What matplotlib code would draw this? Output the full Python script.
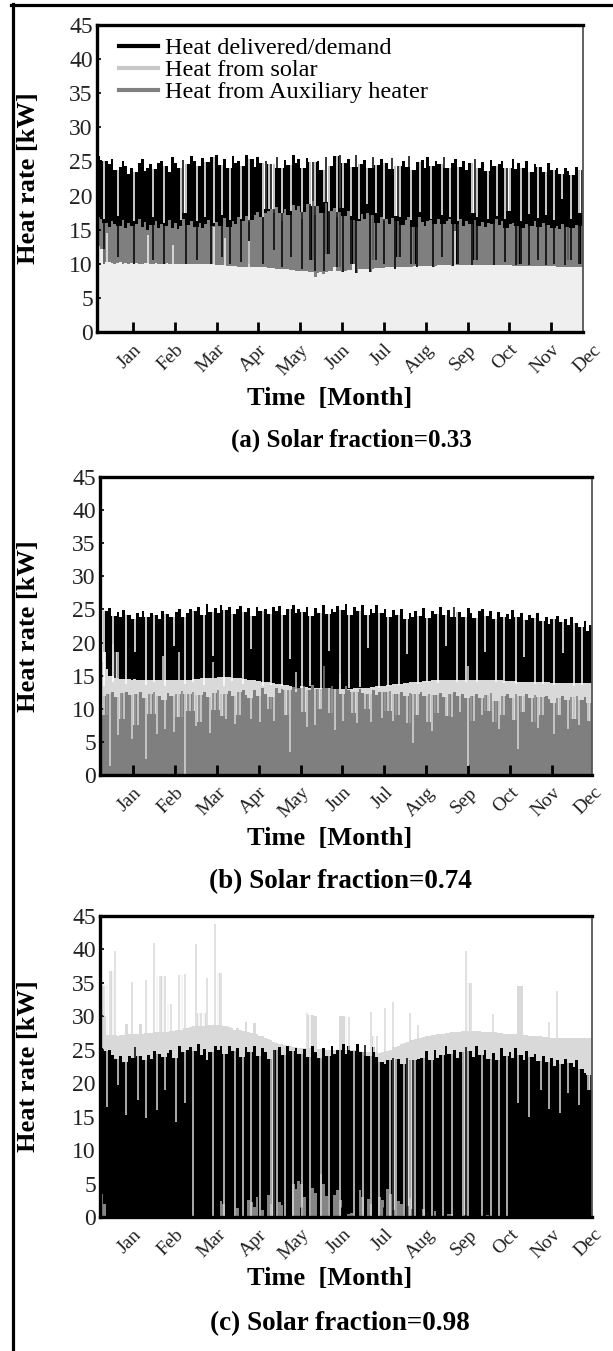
import numpy as np
import matplotlib
matplotlib.use("Agg")
import matplotlib.pyplot as plt
from matplotlib.lines import Line2D
import matplotlib.transforms as mtransforms

W, H = 613, 1351
plt.rcParams['font.family'] = ['Liberation Serif', 'DejaVu Serif']

# ---------------- data ----------------
month_labels = ["Jan", "Feb", "Mar", "Apr", "May", "Jun",
                "Jul", "Aug", "Sep", "Oct", "Nov", "Dec"]
month_days = [30.4, 60.8, 91.3, 121.7, 152.1, 182.5,
              212.9, 243.3, 273.8, 304.2, 334.6, 365.0]
y_ticks = [0, 5, 10, 15, 20, 25, 30, 35, 40, 45]
series_names = ["Heat delivered/demand", "Heat from solar",
                "Heat from Auxiliary heater"]
titles = ["(a) Solar fraction=0.33", "(b) Solar fraction=0.74",
          "(c) Solar fraction=0.98"]

# panel (a) : values every ~2 days [kW]
a_demand = [25.8, 25.2, 16.5, 25.0, 24.6, 25.3, 23.8, 17.0, 24.2, 25.0,
            24.4, 23.2, 24.0, 16.2, 23.5, 24.8, 25.4, 23.6, 24.1, 24.6,
            16.8, 23.9, 24.7, 25.1, 16.0, 24.3, 23.4, 25.6, 24.8, 24.0,
            16.4, 25.2, 17.5, 24.6, 25.8, 25.0, 16.2, 24.3, 25.5, 16.8,
            24.9, 25.7, 16.0, 25.9, 24.5, 17.2, 25.4, 24.0, 16.4, 25.8,
            24.7, 25.1, 16.6, 24.4, 25.9, 16.1, 25.3, 24.2, 25.6, 24.8,
            16.9, 25.0, 18.0, 24.6, 17.5, 25.7, 24.1, 16.3, 25.2, 24.5,
            17.8, 25.9, 24.8, 25.3, 16.6, 24.0, 25.5, 18.4, 24.9, 17.2,
            25.1, 23.8, 19.0, 25.6, 17.6, 24.3, 25.8, 16.8, 26.0, 18.2,
            24.7, 25.4, 17.0, 24.2, 25.9, 16.5, 24.6, 25.2, 18.8, 24.0,
            25.7, 17.4, 24.5, 25.3, 16.2, 24.8, 23.9, 25.5, 17.0, 24.4,
            16.8, 25.0, 24.2, 25.8, 16.4, 23.7, 24.9, 17.6, 25.2, 24.1,
            25.6, 16.6, 24.3, 25.0, 24.6, 17.2, 25.7, 24.0, 16.9, 24.8,
            25.4, 16.3, 24.2, 25.1, 23.8, 24.7, 17.4, 25.3, 16.8, 24.0,
            24.9, 23.6, 16.5, 25.2, 24.4, 17.0, 24.6, 25.0, 16.6, 24.1,
            17.8, 25.4, 23.9, 24.7, 16.2, 24.0, 25.1, 17.3, 23.5, 24.6,
            16.7, 24.2, 23.4, 17.1, 24.8, 23.7, 16.4, 24.1, 23.2, 19.5,
            24.0, 23.6, 16.6, 23.0, 24.2, 17.5, 23.8]
a_aux = [16.8, 16.5, 10.0, 16.0, 15.4, 16.2, 15.8, 11.0, 15.6, 16.4,
         15.2, 16.0, 15.5, 10.0, 15.8, 16.6, 15.4, 16.1, 15.0, 15.7,
         10.5, 16.3, 15.2, 15.9, 10.0, 15.6, 16.4, 15.3, 16.0, 15.1,
         15.6, 16.5, 10.0, 15.7, 16.2, 15.4, 10.5, 16.0, 15.2, 15.9,
         16.4, 10.0, 15.5, 16.1, 15.6, 11.0, 16.7, 15.4, 10.0, 16.3,
         15.8, 16.9, 10.2, 16.2, 17.0, 10.0, 16.4, 17.2, 17.6, 16.8,
         10.0, 17.4, 17.8, 18.0, 12.0, 18.3, 17.5, 9.5, 18.1, 17.2,
         11.0, 18.6, 17.9, 18.4, 9.2, 17.6, 18.8, 10.5, 19.2, 9.0,
         18.5, 17.4, 9.0, 18.9, 11.5, 17.8, 18.2, 9.5, 17.6, 8.8,
         17.0, 17.7, 10.0, 16.4, 8.6, 16.2, 17.3, 16.6, 17.4, 8.8,
         17.1, 10.5, 16.0, 16.8, 10.0, 16.5, 15.9, 16.7, 9.2, 16.2,
         11.0, 15.7, 16.4, 16.9, 10.0, 15.4, 9.5, 16.8, 16.1, 15.6,
         16.3, 16.4, 9.6, 15.9, 16.5, 11.0, 15.8, 16.2, 16.5, 9.7,
         15.9, 10.0, 16.6, 15.5, 16.3, 15.8, 9.8, 16.4, 10.5, 15.6,
         16.1, 15.4, 16.0, 15.9, 9.8, 16.6, 15.7, 16.2, 10.2, 15.3,
         15.8, 16.0, 9.8, 15.6, 10.0, 15.2, 15.9, 9.8, 15.5, 16.2,
         10.5, 15.4, 16.0, 9.8, 15.7, 15.3, 10.0, 15.6, 15.1, 15.8,
         9.8, 15.4, 10.5, 15.2, 15.7, 10.0, 15.6]
a_solar = [12.6, 12.2, 10.0, 14.5, 10.3, 10.1, 10.0, 10.1, 10.2, 10.0,
           10.1, 10.0, 10.1, 10.0, 10.1, 10.0, 10.0, 10.1, 14.2, 10.0,
           10.0, 10.1, 10.0, 10.0, 10.0, 10.1, 10.0, 12.8, 10.0, 10.0,
           9.9, 10.0, 9.9, 10.0, 9.9, 10.0, 9.9, 9.9, 10.0, 9.9,
           9.9, 9.9, 15.4, 9.8, 9.8, 9.8, 13.8, 9.7, 9.7, 9.7,
           9.7, 9.6, 9.6, 9.6, 9.6, 13.4, 9.6, 9.5, 9.5, 9.5,
           9.5, 9.5, 9.4, 9.4, 9.4, 9.3, 9.3, 9.3, 9.2, 9.2,
           9.1, 9.1, 9.0, 9.0, 9.0, 8.9, 8.9, 8.8, 8.8, 8.0,
           8.7, 8.8, 8.5, 8.8, 8.9, 8.9, 9.6, 8.9, 9.0, 8.8,
           9.0, 9.1, 9.1, 9.9, 8.6, 9.2, 9.2, 9.3, 9.3, 8.8,
           9.3, 9.4, 9.4, 9.4, 9.4, 9.5, 9.5, 9.5, 9.2, 9.5,
           9.6, 9.6, 9.6, 9.6, 9.6, 9.7, 9.5, 9.7, 9.7, 9.7,
           9.7, 9.7, 9.6, 9.7, 9.8, 9.8, 9.8, 9.8, 9.8, 9.7,
           14.8, 9.8, 9.8, 9.8, 9.8, 9.8, 9.8, 9.8, 9.8, 9.8,
           9.8, 9.8, 9.8, 9.8, 9.8, 9.8, 9.8, 9.8, 9.8, 9.8,
           9.8, 9.7, 9.7, 9.7, 9.7, 9.7, 9.7, 9.7, 9.7, 9.7,
           9.7, 9.7, 9.7, 9.7, 9.7, 9.7, 9.7, 9.6, 9.6, 9.6,
           9.6, 9.6, 9.6, 9.6, 9.6, 9.6, 9.6]

# panel (b)
b_demand = [25.5, 13.5, 24.8, 25.2, 14.0, 24.0, 24.6, 23.8, 24.9, 13.8,
            24.2, 23.6, 18.5, 24.4, 23.9, 24.7, 13.6, 23.8, 24.5, 14.0,
            24.1, 23.5, 24.8, 13.5, 24.3, 23.9, 19.5, 24.6, 25.1, 23.8,
            13.8, 24.4, 25.0, 14.0, 24.7, 25.3, 24.1, 13.6, 25.8, 24.6,
            18.0, 25.2, 24.5, 25.6, 13.5, 24.9, 25.4, 14.2, 24.3, 25.0,
            25.5, 13.8, 24.6, 25.2, 19.0, 24.0, 25.4, 24.7, 13.4, 25.1,
            24.3, 13.6, 25.3, 24.8, 25.5, 13.5, 24.2, 25.0, 17.5, 25.6,
            24.4, 25.1, 13.2, 24.6, 25.4, 13.4, 24.0, 25.2, 24.5, 13.0,
            25.7, 24.3, 18.8, 25.0, 24.6, 25.5, 13.0, 24.9, 25.8, 13.1,
            24.2, 25.3, 24.7, 13.3, 25.6, 24.1, 19.2, 25.0, 24.4, 25.7,
            13.2, 24.5, 25.1, 13.4, 23.8, 24.9, 24.2, 13.6, 25.0, 23.6,
            18.2, 24.4, 23.9, 24.7, 13.8, 24.0, 25.2, 14.0, 23.7, 24.8,
            24.3, 13.9, 25.3, 24.1, 19.5, 24.9, 23.8, 25.4, 14.0, 24.6,
            23.9, 14.1, 25.2, 24.4, 23.7, 14.0, 24.8, 25.1, 18.6, 24.0,
            24.7, 23.5, 14.0, 24.6, 23.8, 13.9, 24.3, 23.6, 24.9, 13.8,
            23.9, 24.5, 17.8, 23.4, 24.2, 23.7, 13.7, 24.4, 23.2, 13.8,
            23.9, 22.8, 23.6, 13.6, 24.0, 23.1, 18.4, 23.5, 22.7, 23.8,
            13.5, 23.0, 22.4, 13.6, 23.3, 21.8, 22.6]
b_solar = [17.0, 18.5, 16.0, 15.0, 19.8, 14.6, 18.5, 14.5, 14.5, 14.5,
           14.5, 14.4, 14.5, 14.4, 14.4, 14.4, 14.4, 14.3, 14.3, 14.3,
           14.3, 14.3, 18.0, 14.3, 14.3, 14.3, 14.3, 14.3, 18.6, 14.3,
           14.4, 14.4, 14.4, 14.5, 14.5, 14.5, 14.6, 14.6, 14.6, 14.7,
           17.0, 14.7, 14.8, 14.8, 14.8, 14.8, 14.8, 14.7, 14.7, 14.6,
           14.6, 14.5, 14.5, 14.4, 14.4, 14.3, 14.2, 14.2, 14.1, 14.0,
           14.0, 13.9, 13.9, 13.8, 13.8, 13.7, 13.6, 13.6, 13.5, 12.8,
           15.5, 13.0, 13.4, 13.3, 13.3, 13.2, 13.2, 13.1, 13.1, 13.1,
           13.0, 13.0, 13.0, 13.0, 13.0, 13.0, 15.2, 13.0, 13.0, 13.0,
           13.0, 13.1, 13.1, 13.1, 13.2, 13.2, 13.2, 13.3, 13.3, 13.4,
           13.4, 13.5, 13.5, 13.6, 13.6, 13.7, 13.7, 13.8, 13.8, 13.9,
           13.9, 14.0, 14.0, 14.1, 14.1, 14.1, 14.2, 14.2, 14.2, 14.3,
           14.3, 14.3, 14.3, 14.4, 14.4, 14.4, 14.4, 14.4, 14.4, 14.4,
           14.4, 14.4, 16.4, 14.4, 14.4, 14.4, 14.4, 14.4, 14.4, 14.3,
           14.3, 14.3, 14.3, 14.3, 14.3, 14.2, 14.2, 14.2, 14.2, 14.2,
           14.1, 14.1, 14.1, 14.1, 14.1, 14.0, 14.0, 14.0, 14.0, 14.0,
           14.0, 14.0, 13.9, 13.9, 13.9, 13.9, 13.9, 13.9, 13.9, 13.9,
           13.9, 13.9, 13.9, 13.9, 13.9, 13.9, 13.9]
b_aux = [12.0, 9.0, 12.3, 1.4, 12.5, 11.8, 6.0, 12.4, 8.5, 12.6,
         12.1, 5.4, 12.3, 7.5, 12.5, 11.6, 2.4, 12.2, 9.2, 12.6,
         6.2, 12.0, 11.3, 7.0, 12.4, 11.9, 6.5, 12.3, 8.8, 12.7,
         0.0, 12.2, 9.6, 12.5, 7.4, 12.1, 8.0, 12.6, 11.8, 6.3,
         12.4, 9.8, 12.8, 8.9, 12.2, 8.4, 12.7, 12.0, 7.7, 12.5,
         9.0, 12.9, 12.1, 11.6, 8.5, 12.8, 12.0, 8.0, 13.1, 12.3,
         9.9, 11.8, 8.2, 13.2, 12.4, 13.0, 9.0, 12.8, 3.4, 13.3,
         12.5, 13.1, 9.5, 13.4, 7.2, 12.9, 13.6, 7.6, 13.0, 10.0,
         16.5, 13.2, 9.3, 13.5, 6.8, 13.0, 12.3, 8.2, 13.4, 12.8,
         9.4, 12.5, 7.8, 13.0, 12.4, 10.0, 12.2, 8.0, 12.8, 12.1,
         12.6, 8.6, 12.5, 9.6, 12.7, 8.2, 12.3, 9.0, 12.6, 12.0,
         7.8, 12.4, 4.9, 12.2, 9.1, 12.5, 11.9, 8.0, 12.3, 6.7,
         12.1, 9.3, 12.4, 11.8, 8.9, 12.2, 8.7, 12.5, 11.9, 9.5,
         12.3, 11.7, 1.4, 12.0, 8.2, 12.3, 11.7, 9.0, 12.1, 9.6,
         12.4, 8.0, 11.2, 7.0, 12.0, 9.0, 12.3, 11.7, 8.3, 12.2,
         3.9, 11.9, 9.5, 12.2, 11.6, 8.0, 12.1, 7.1, 11.8, 9.1,
         12.0, 11.5, 10.9, 6.2, 11.7, 9.0, 12.0, 11.4, 7.0, 11.8,
         8.4, 11.9, 7.5, 11.3, 11.8, 8.1, 10.8]

# panel (c)
c_solar = [30.0, 34.5, 27.2, 36.8, 27.2, 39.8, 27.0, 27.2, 27.2, 28.8,
           27.3, 35.2, 27.3, 27.4, 28.8, 27.4, 35.5, 27.5, 27.5, 41.0,
           27.6, 36.0, 27.6, 36.0, 27.7, 31.8, 27.8, 27.9, 36.2, 28.0,
           36.3, 28.2, 28.4, 28.5, 40.8, 28.6, 30.5, 28.6, 35.8, 28.7,
           28.7, 43.8, 28.7, 36.5, 28.6, 28.5, 28.4, 28.3, 28.0, 28.2,
           27.9, 27.8, 29.1, 27.6, 27.5, 29.0, 27.3, 27.1, 27.0, 26.8,
           26.6, 26.4, 26.2, 26.0, 25.9, 25.8, 25.7, 25.6, 25.5, 25.4,
           25.4, 25.3, 25.3, 25.2, 30.5, 25.2, 30.2, 30.0, 25.1, 25.1,
           25.0, 25.0, 25.0, 25.0, 25.0, 25.0, 30.0, 30.0, 25.0, 29.9,
           24.9, 24.9, 24.8, 24.8, 24.7, 24.7, 24.6, 30.6, 24.6, 27.0,
           24.5, 24.6, 31.3, 24.8, 25.0, 32.2, 25.4, 25.6, 25.8, 26.0,
           26.2, 30.5, 26.4, 26.6, 28.7, 26.8, 26.9, 27.0, 27.1, 27.2,
           27.2, 27.3, 27.4, 27.4, 27.5, 27.5, 27.6, 27.6, 27.7, 27.7,
           27.8, 39.8, 27.8, 35.0, 27.8, 27.8, 27.8, 27.7, 27.7, 27.7,
           27.6, 30.3, 27.6, 27.5, 27.5, 27.4, 27.4, 27.4, 27.3, 27.3,
           34.6, 34.6, 27.2, 27.2, 27.1, 27.1, 27.0, 27.0, 27.0, 26.9,
           26.9, 29.2, 26.8, 26.8, 33.8, 26.8, 26.7, 26.7, 26.7, 26.7,
           26.7, 26.7, 26.7, 26.7, 26.7, 26.7, 26.7]
c_demand = [25.2, 24.8, 16.5, 25.0, 24.2, 23.6, 19.8, 24.0, 23.2, 15.2,
            24.1, 23.8, 25.4, 17.5, 24.0, 23.5, 14.8, 24.2, 23.6, 24.8,
            16.0, 24.3, 23.9, 19.0, 24.5, 25.0, 23.7, 14.2, 25.5, 24.6,
            17.0, 24.9, 25.4, 0.0, 24.8, 25.9, 24.2, 25.1, 23.5, 24.7,
            0.0, 25.5, 24.9, 25.6, 0.0, 24.3, 25.5, 24.8, 0.0, 25.2,
            23.9, 0.0, 25.4, 24.6, 0.0, 25.5, 24.1, 0.0, 25.3, 24.7,
            23.6, 0.0, 24.9, 0.0, 25.4, 24.2, 0.0, 25.5, 24.8, 0.0,
            25.3, 24.4, 0.0, 25.1, 23.9, 0.0, 25.5, 24.6, 23.8, 0.0,
            25.2, 24.0, 0.0, 25.6, 24.3, 25.0, 0.0, 25.8, 24.4, 25.5,
            24.8, 0.0, 25.9, 24.6, 0.0, 25.7, 24.0, 0.0, 25.4, 23.9,
            0.0, 23.2, 22.9, 23.5, 0.0, 23.8, 0.0, 23.6, 22.8, 0.0,
            23.7, 0.0, 23.5, 0.0, 23.6, 23.8, 0.0, 24.8, 23.5, 0.0,
            25.0, 23.7, 24.2, 0.0, 25.5, 24.3, 0.0, 25.0, 23.8, 24.6,
            0.0, 25.4, 0.0, 24.8, 23.9, 25.5, 24.2, 0.0, 25.0, 23.6,
            0.0, 24.5, 23.4, 0.0, 25.2, 24.0, 0.0, 24.6, 23.8, 25.3,
            17.0, 24.2, 23.5, 24.8, 15.0, 23.9, 24.4, 23.3, 19.0, 24.0,
            23.1, 16.2, 23.8, 22.6, 23.4, 15.5, 22.8, 23.6, 18.5, 23.0,
            22.4, 23.5, 16.8, 22.1, 21.5, 19.0, 21.2]
c_aux = [3.5, 2.0, 0, 0, 0, 0, 0, 0, 0, 0,
         0, 0, 0, 0, 0, 0, 0, 0, 0, 0,
         0, 0, 0, 0, 0, 0, 0, 0, 0, 0,
         0, 0, 0, 0, 0, 0, 0, 0, 0, 0,
         0, 0, 0, 2.4, 2.0, 0, 0, 0, 0, 1.3,
         0, 0, 0, 2.6, 2.2, 1.5, 3.0, 0, 1.0, 0,
         3.3, 2.0, 0, 0, 2.2, 1.8, 0, 0, 0, 4.9,
         4.2, 5.4, 5.0, 3.0, 0, 0, 4.4, 3.6, 0, 6.5,
         5.0, 3.2, 0, 0, 3.3, 4.0, 2.5, 0, 0, 0.5,
         0.6, 0, 0, 4.0, 3.0, 0, 2.7, 2.0, 0, 0,
         3.0, 2.6, 0, 4.2, 3.5, 1.0, 0, 2.4, 2.0, 0,
         1.6, 2.8, 1.2, 0, 0, 0, 1.2, 0.8, 0, 0,
         0.9, 0, 0, 0, 0, 0.5, 0.4, 0, 0, 0,
         0, 0.3, 0, 0, 0, 0, 0, 0, 0, 0.3,
         0, 0, 0, 0, 0, 0, 0, 0, 0, 0,
         0, 0, 0, 0, 0, 0, 0, 0, 0, 0,
         0, 0, 0, 0, 0, 0, 0, 0, 0, 0,
         0, 0, 0, 0, 0, 0, 0]

# ---------------- styling ----------------
BLACK, AUX, SOLAR_A, SOLAR = "#000000", "#7f7f7f", "#efefef", "#d9d9d9"
LEG_COLORS = ["#000000", "#c8c8c8", "#808080"]
THIN_LW = 1.1   # width (pt) of single-sample dips / spikes

# layer tuple: (values, fill colour, colour seen through a dip, thin?)
panels = [
    dict(box=(97, 583, 25, 332), xlim=(4.3, 357.8),
         layers=[(a_demand, BLACK, "white", True),
                 (a_aux, AUX, BLACK, True),
                 (a_solar, SOLAR_A, AUX, True)],
         time_y=398, title_y=440, title_x=351, title_fs=18, legend=True),
    dict(box=(100, 592, 477, 775), xlim=(6.4, 363.7),
         layers=[(b_demand, BLACK, "white", True),
                 (b_solar, SOLAR, BLACK, True),
                 (b_aux, AUX, SOLAR, True)],
         time_y=838, title_y=882, title_x=340, title_fs=19.5, legend=False),
    dict(box=(100, 592, 916, 1217), xlim=(6.4, 363.7),
         layers=[(c_solar, SOLAR, "white", True),
                 (c_demand, BLACK, SOLAR, True),
                 (c_aux, "#858585", BLACK, False)],
         time_y=1278, title_y=1324, title_x=340, title_fs=19.5, legend=False),
]


def draw_layer(ax, vals, edges, color, gap_color, thin, thr=1.5):
    v = np.asarray(vals, dtype=float)
    n = len(v)
    base = v.copy()
    centers = 0.5 * (edges[:-1] + edges[1:])
    dips, spikes = [], []
    if thin:
        for i in range(n):
            nb = [v[j] for j in (i - 1, i + 1) if 0 <= j < n]
            lo, hi = min(nb), max(nb)
            if v[i] < lo - thr:
                base[i] = lo
                dips.append(i)
            elif v[i] > hi + thr:
                base[i] = hi
                spikes.append(i)
    ax.stairs(base, edges, fill=True, color=color, baseline=0, linewidth=0)
    if dips:
        ax.vlines(centers[dips], v[dips], base[dips], colors=gap_color,
                  linewidth=THIN_LW)
    if spikes:
        ax.vlines(centers[spikes], base[spikes], v[spikes], colors=color,
                  linewidth=THIN_LW)


fig = plt.figure(figsize=(W / 100, H / 100), dpi=100)
fig.patch.set_facecolor("white")

for k, p in enumerate(panels):
    x0, x1, yt, yb = p["box"]
    ax = fig.add_axes([x0 / W, 1 - yb / H, (x1 - x0) / W, (yb - yt) / H])
    for vals, col, gcol, thin in p["layers"]:
        edges = np.linspace(p["xlim"][0], p["xlim"][1], len(vals) + 1)
        draw_layer(ax, vals, edges, col, gcol, thin)
    ax.set_xlim(*p["xlim"])
    ax.set_ylim(0, 45)
    ax.set_yticks(y_ticks)
    ax.set_yticklabels([str(v) for v in y_ticks], fontsize=17,
                       color="#222222")
    ax.set_xticks(month_days[:11])
    ax.set_xticklabels([])
    ax.tick_params(axis="x", direction="in", length=7, width=2,
                   bottom=True, top=False)
    ax.tick_params(axis="y", direction="in", length=3, width=1.2,
                   left=True, right=False, pad=3)
    for s in ("left", "bottom", "top"):
        ax.spines[s].set_linewidth(2.4)
        ax.spines[s].set_color("black")
    ax.spines["right"].set_linewidth(1.3)
    ax.spines["right"].set_color("#555555")
    for sp in ax.spines.values():
        sp.set_zorder(5)

    trans = mtransforms.blended_transform_factory(ax.transData, ax.transAxes)
    for lab, d in zip(month_labels, month_days):
        ax.text(d, -0.03, lab, transform=trans, rotation=45,
                rotation_mode="anchor", ha="right", va="top",
                fontsize=14, color="#222222", clip_on=False)

    ax.set_ylabel("Heat rate [kW]", fontsize=19, fontweight="bold")
    ax.yaxis.set_label_coords((40 - x0) / (x1 - x0), 0.5)

    fig.text(330 / W, 1 - p["time_y"] / H, "Time  [Month]", ha="center",
             va="center", fontsize=19, fontweight="bold")
    fig.text(p["title_x"] / W, 1 - p["title_y"] / H, titles[k],
             ha="center", va="center", fontsize=p["title_fs"],
             fontweight="bold")

    if p["legend"]:
        handles = [Line2D([], [], color=c, lw=3) for c in LEG_COLORS]
        ax.legend(handles, series_names, loc="upper left",
                  bbox_to_anchor=(22 / (x1 - x0), 1 - 12 / (yb - yt)),
                  frameon=False, fontsize=17.5, handlelength=1.6,
                  handletextpad=0.3, labelspacing=0.0, borderpad=0,
                  borderaxespad=0)

# outer frame (top and left edges of the page box)
fig.add_artist(Line2D([12.5 / W, 12.5 / W], [0, 1 - 4 / H],
                      transform=fig.transFigure, color="black", lw=2.3))
fig.add_artist(Line2D([11 / W, 1.0], [1 - 5.3 / H, 1 - 5.3 / H],
                      transform=fig.transFigure, color="black", lw=2.3))

fig.savefig("out.png", dpi=100, facecolor="white")
